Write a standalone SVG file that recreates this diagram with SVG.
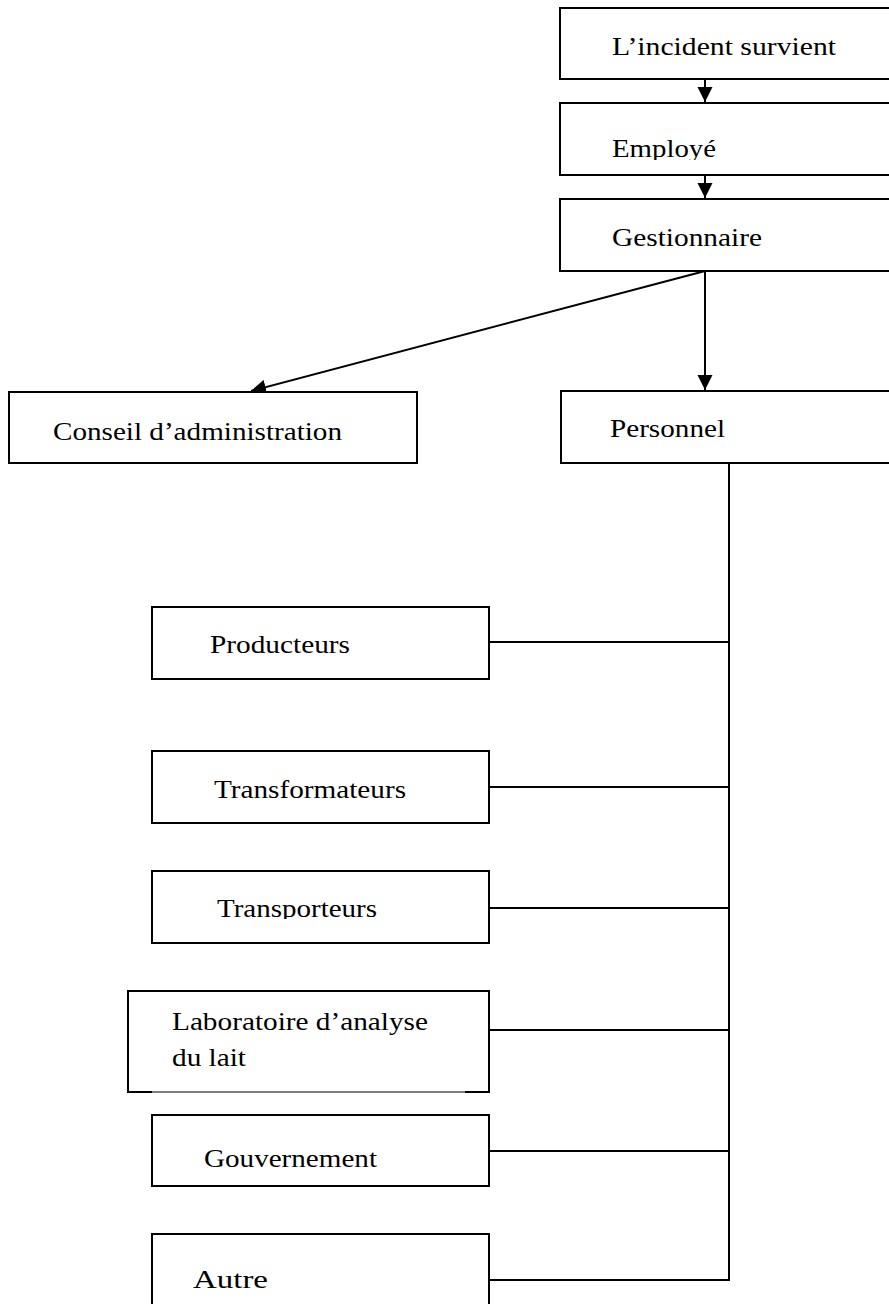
<svg xmlns="http://www.w3.org/2000/svg" width="889" height="1304" viewBox="0 0 889 1304">
<style>
.box{fill:#fff;stroke:#000;stroke-width:2}
.ln{fill:none;stroke:#000;stroke-width:2}
.thin{fill:none;stroke:#000;stroke-width:1}
text{font-family:"Liberation Serif","Times New Roman",serif;font-size:24.5px;fill:#000}
</style>
<defs>
<marker id="ah" markerUnits="userSpaceOnUse" markerWidth="16" markerHeight="16" viewBox="0 0 16 16" refX="15" refY="8" orient="auto">
<path d="M0,0.5 L15,8 L0,15.5 Z" fill="#000"/>
</marker>
<clipPath id="clipEmp"><rect x="560" y="103" width="329" height="57"/></clipPath>
<clipPath id="clipTrp"><rect x="152" y="871" width="337" height="48"/></clipPath>
</defs>
<rect width="889" height="1304" fill="#fff"/>

<g id="connectors">
<line class="ln" x1="705" y1="79" x2="705" y2="102" marker-end="url(#ah)"/>
<line class="ln" x1="705" y1="175" x2="705" y2="198" marker-end="url(#ah)"/>
<line class="ln" x1="705" y1="271" x2="705" y2="390" marker-end="url(#ah)"/>
<line class="ln" x1="705" y1="271" x2="251" y2="391" marker-end="url(#ah)"/>
<line class="ln" x1="729" y1="463" x2="729" y2="1281"/>
<line class="ln" x1="489" y1="642" x2="729" y2="642"/>
<line class="ln" x1="489" y1="787" x2="729" y2="787"/>
<line class="ln" x1="489" y1="908" x2="729" y2="908"/>
<line class="ln" x1="489" y1="1030" x2="729" y2="1030"/>
<line class="ln" x1="489" y1="1151" x2="729" y2="1151"/>
<line class="ln" x1="489" y1="1280" x2="728" y2="1280"/>
</g>

<g id="n-incident">
<rect class="box" x="560" y="8" width="340" height="71"/>
<text x="612" y="55" textLength="224" lengthAdjust="spacingAndGlyphs">L’incident survient</text>
</g>
<g id="n-employe">
<rect class="box" x="560" y="103" width="340" height="72"/>
<text x="612" y="157" textLength="104" lengthAdjust="spacingAndGlyphs" clip-path="url(#clipEmp)">Employé</text>
</g>
<g id="n-gestionnaire">
<rect class="box" x="560" y="199" width="340" height="72"/>
<text x="612" y="246" textLength="150" lengthAdjust="spacingAndGlyphs">Gestionnaire</text>
</g>
<g id="n-conseil">
<rect class="box" x="9" y="392" width="408" height="71"/>
<text x="53" y="440" textLength="289" lengthAdjust="spacingAndGlyphs">Conseil d’administration</text>
</g>
<g id="n-personnel">
<rect class="box" x="561" y="391" width="340" height="72"/>
<text x="610" y="437" textLength="115" lengthAdjust="spacingAndGlyphs">Personnel</text>
</g>
<g id="n-producteurs">
<rect class="box" x="152" y="607" width="337" height="72"/>
<text x="210" y="653" textLength="140" lengthAdjust="spacingAndGlyphs">Producteurs</text>
</g>
<g id="n-transformateurs">
<rect class="box" x="152" y="751" width="337" height="72"/>
<text x="214" y="798" textLength="192" lengthAdjust="spacingAndGlyphs">Transformateurs</text>
</g>
<g id="n-transporteurs">
<rect class="box" x="152" y="871" width="337" height="72"/>
<text x="217" y="917" textLength="160" lengthAdjust="spacingAndGlyphs" clip-path="url(#clipTrp)">Transporteurs</text>
</g>
<g id="n-laboratoire">
<rect x="128" y="991" width="361" height="101" fill="#fff"/>
<path class="ln" d="M128,1092 L128,991 L489,991 L489,1092"/>
<line class="ln" x1="127" y1="1092" x2="152" y2="1092"/>
<line class="ln" x1="465" y1="1092" x2="490" y2="1092"/>
<line class="thin" x1="152" y1="1092" x2="465" y2="1092"/>
<text x="172" y="1030" textLength="256" lengthAdjust="spacingAndGlyphs">Laboratoire d’analyse</text>
<text x="172" y="1066" textLength="74" lengthAdjust="spacingAndGlyphs">du lait</text>
</g>
<g id="n-gouvernement">
<rect class="box" x="152" y="1115" width="337" height="71"/>
<text x="204" y="1167" textLength="173" lengthAdjust="spacingAndGlyphs">Gouvernement</text>
</g>
<g id="n-autre">
<rect class="box" x="152" y="1234" width="337" height="80"/>
<text x="193" y="1288" textLength="75" lengthAdjust="spacingAndGlyphs">Autre</text>
</g>
</svg>
